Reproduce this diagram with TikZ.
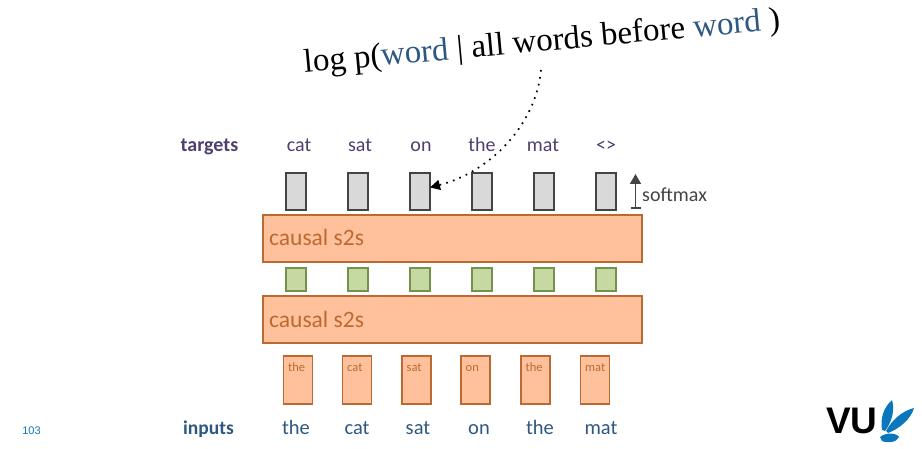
\documentclass[tikz,border=0pt]{standalone}
\usepackage{fontspec}
\usetikzlibrary{arrows.meta}
\setmainfont{Carlito}
\newfontfamily\serifface{Liberation Serif}
\newfontfamily\arialface{Liberation Sans}
\definecolor{purp}{HTML}{4F3F6E}
\definecolor{blu}{HTML}{2F5880}
\definecolor{orfill}{HTML}{FFC19B}
\definecolor{orline}{HTML}{BD6A32}
\definecolor{grfill}{HTML}{C6D9A3}
\definecolor{grline}{HTML}{74924C}
\definecolor{gyfill}{HTML}{D9D9D9}
\definecolor{gyline}{HTML}{444444}
\definecolor{vublue}{HTML}{0A77BD}
\tikzset{
  box/.style={draw,line width=1.4pt,minimum width=20pt,inner sep=0pt,outer sep=0pt},
  gray box/.style={box,draw=gyline,fill=gyfill,minimum height=37pt},
  green box/.style={box,draw=grline,fill=grfill,minimum height=23pt},
  in box/.style={box,draw=orline,fill=orfill,minimum width=29pt,minimum height=48pt},
  bar/.style={draw=orline,fill=orfill,line width=1.4pt,minimum width=379pt,minimum height=47pt,inner sep=0pt,outer sep=0pt},
  bar label/.style={text=orline,font=\fontsize{23.5}{26}\selectfont,anchor=base west,inner sep=0pt},
  small label/.style={text=orline,font=\fontsize{12.5}{14}\selectfont,anchor=base west,inner sep=0pt},
  target/.style={text=purp,font=\fontsize{20}{22}\selectfont,inner sep=0pt,anchor=base},
  input/.style={text=blu,font=\fontsize{20.5}{23}\selectfont,inner sep=0pt,anchor=base},
}
\begin{document}
\begin{tikzpicture}[x=1pt,y=-1pt]
\useasboundingbox (0,0) rectangle (922,449);
% formula
\node[rotate=5.2,inner sep=0pt,font=\serifface\fontsize{33}{36}\selectfont] (formula) at (542,43)
  {log p(\kern-0.5pt\textcolor{blu}{word} | all words before \textcolor{blu}{word} )};
\coordinate (dotstart) at (541,70);
% targets
\node[font=\bfseries\fontsize{20}{22}\selectfont,text=purp,inner sep=0pt,anchor=base] (targets) at (209.5,152) {targets};
\foreach \n/\x/\t in {t1/299/cat,t2/360/sat,t3/421/on,t4/482/the,t5/543/mat,t6/606/{<>}}
  \node[target] (\n) at (\x,152) {\t};
% gray
\foreach \n/\x in {g1/296,g2/358,g3/420,g4/482,g5/544,g6/606}
  \node[gray box] (\n) at (\x,191.5) {};
% bars
\node[bar] (bar1) at (452.5,238.5) {};
\node[bar label] (bar1t) at (269,246) {causal s2s};
\foreach \n/\x in {m1/296,m2/358,m3/420,m4/482,m5/544,m6/606}
  \node[green box] (\n) at (\x,279.5) {};
\node[bar] (bar2) at (452.5,319.5) {};
\node[bar label] (bar2t) at (269,327) {causal s2s};
% input boxes
\foreach \n/\x/\t in {i1/298/the,i2/357/cat,i3/416.5/sat,i4/475.5/on,i5/535.5/the,i6/595/mat}{
  \node[in box] (\n) at (\x,380) {};
  \node[small label] (\n l) at ([xshift=4.5pt,yshift=-15pt]\n.north west) {\t};
}
% inputs
\node[font=\bfseries\fontsize{19.5}{22}\selectfont,text=blu,inner sep=0pt,anchor=base] (inputs) at (208.5,434) {inputs};
\foreach \n/\x/\t in {b1/296/the,b2/357/cat,b3/418/sat,b4/479/on,b5/540/the,b6/601/mat}
  \node[input] (\n) at (\x,434) {\t};
% softmax
\coordinate (sm0) at (635.5,208);
\coordinate (sm1) at (635.5,174);
\draw[gyline,line width=1.7pt,-{Triangle[length=10pt,width=11pt]}] (sm0) -- (sm1);
\draw[gyline,line width=1.7pt] ([xshift=-5pt]sm0) -- ([xshift=5pt]sm0);
\node[text=gyline,font=\fontsize{20}{22}\selectfont,anchor=base west,inner sep=0pt] (softmax) at (642,202) {softmax};
% dotted connector
\draw[line width=1.7pt,dash pattern=on 1.7pt off 5.3pt,-{Triangle[length=10pt,width=10pt]}]
  (dotstart) .. controls (536,125) and (490,172) .. (g3.22);
% page number
\node[text=vublue,font=\arialface\fontsize{11}{13}\selectfont,inner sep=0pt] (page) at (31.5,431) {103};
% logo
\node[font=\arialface\bfseries\fontsize{37}{40}\selectfont,inner sep=0pt,anchor=west] (vu) at (826,421) {VU};
\fill[vublue] (882,430) .. controls (880,418) and (884,407) .. (892,400)
  .. controls (895,410) and (892,422) .. (885,431) -- cycle;
\fill[vublue] (886,431) .. controls (892,420) and (902,411) .. (914,408)
  .. controls (911,419) and (899,429) .. (888,433) -- cycle;
\fill[vublue] (880,437) .. controls (886,432) and (897,433) .. (899,437)
  .. controls (897,443) and (886,443) .. (882,441) -- cycle;
\end{tikzpicture}
\end{document}
